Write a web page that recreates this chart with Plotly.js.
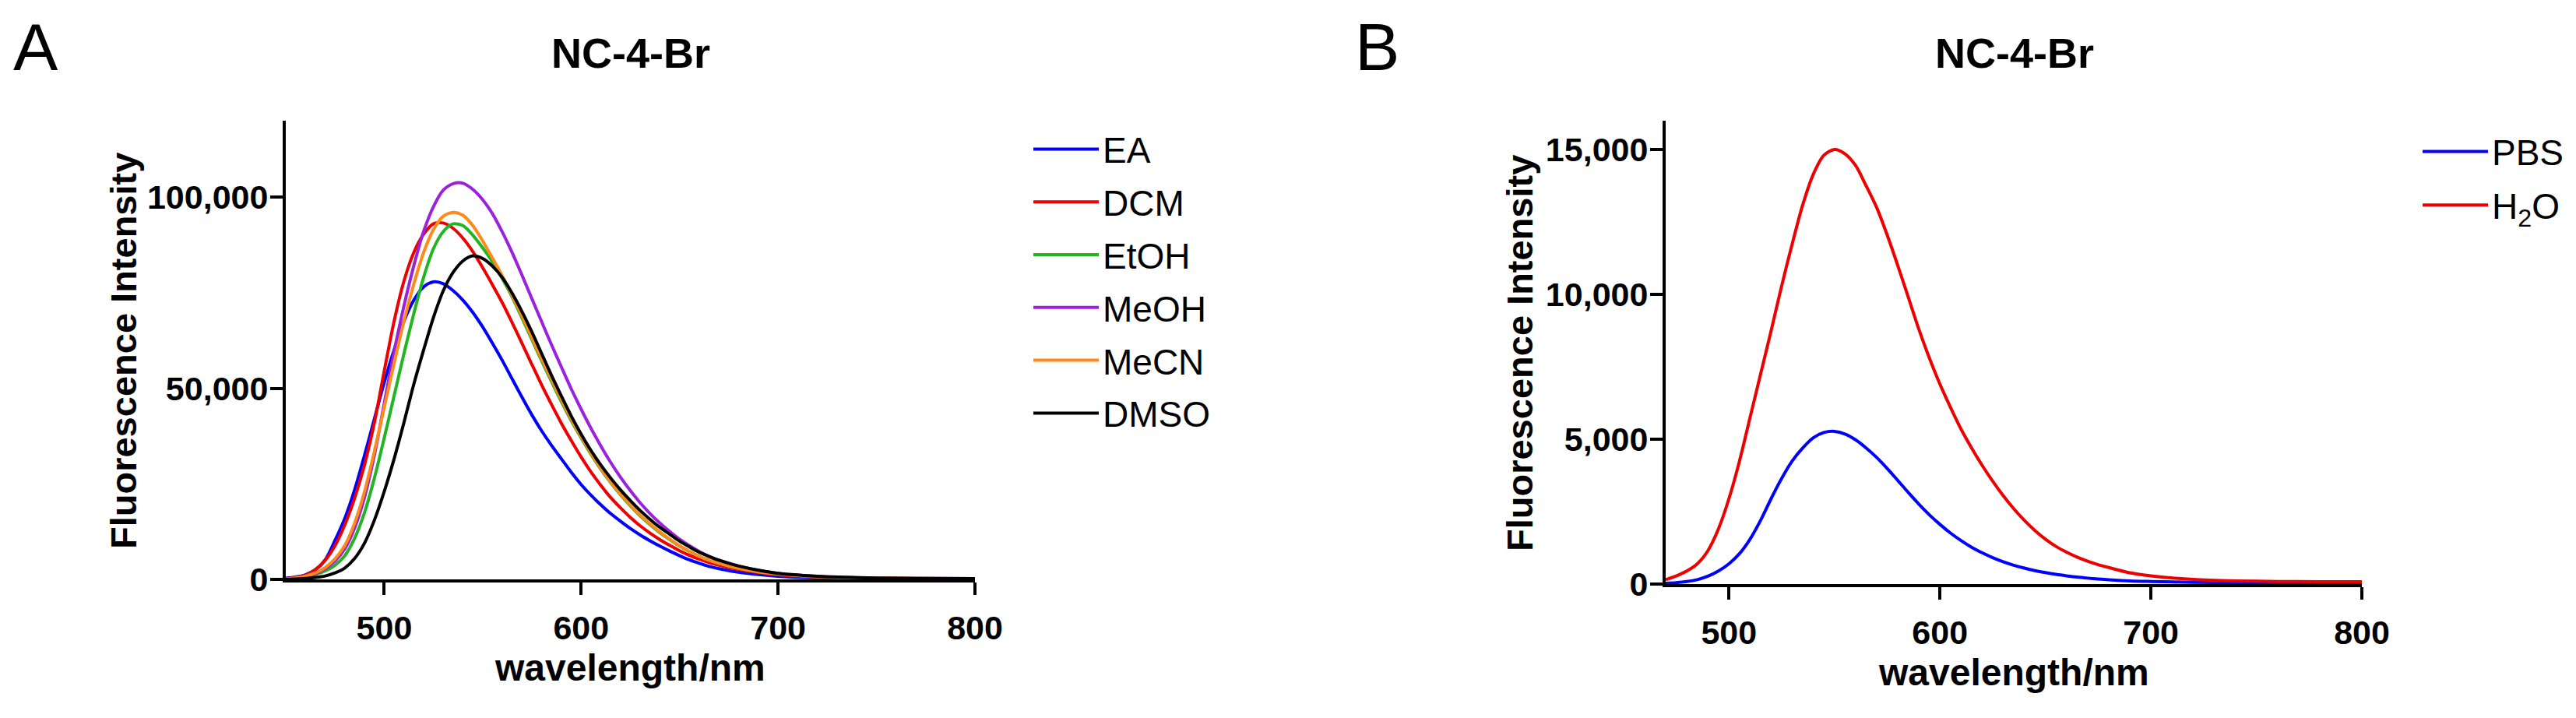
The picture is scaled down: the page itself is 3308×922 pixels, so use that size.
<!DOCTYPE html>
<html>
<head>
<meta charset="utf-8">
<script src="https://cdn.plot.ly/plotly-3.0.1.min.js"></script>
<style>
  html, body { margin: 0; padding: 0; background: #ffffff; }
  #chart { width: 3308px; height: 922px; }
</style>
</head>
<body>
<div id="chart"></div>
<script>
// ---------- Panel A data (wavelength in nm, intensity in counts) ----------
const wavelengthA = [450,455,460,465,470,475,480,485,490,495,500,505,510,515,520,525,530,535,540,545,550,555,560,565,570,575,580,585,590,595,600,605,610,615,620,625,630,635,640,645,650,655,660,665,670,675,680,690,700,720,740,760,780,800];

const seriesNamesA = ["EA", "DCM", "EtOH", "MeOH", "MeCN", "DMSO"];

const EA   = [300,600,1200,2500,5100,10200,16000,23500,32500,42000,51500,60000,67500,73000,76500,77800,77300,75500,73000,69800,66000,61700,57200,52400,47600,43000,38800,35000,31500,28000,24800,22000,19500,17200,15200,13300,11600,10100,8700,7400,6200,5100,4200,3400,2800,2300,1900,1250,800,400,220,150,110,100];
const DCM  = [200,500,1100,2500,5000,8800,14300,21300,30000,41000,54500,67500,78000,85500,90300,93000,93200,91800,89200,85700,81500,77000,72300,67100,61700,56200,50800,45700,40800,36300,32000,28100,24600,21400,18700,16200,14000,12100,10400,8900,7500,6300,5300,4400,3700,3100,2600,1800,1200,600,350,250,200,150];
const EtOH = [100,300,700,1300,2200,3700,6200,10800,17500,26500,37000,48000,59000,69500,79000,86500,91000,93000,92500,90000,86700,83000,78600,73800,68300,62700,57100,51700,46400,41500,37000,32700,28800,25300,22100,19200,16600,14300,12200,10400,8700,7300,6000,5000,4200,3500,2900,2000,1400,700,400,300,200,150];
const MeOH = [100,300,750,1500,2800,4800,8000,13500,21500,32500,46000,59500,71500,82000,91000,97500,101800,103500,103600,102000,99300,95600,90800,85400,79500,73400,67300,61300,55500,49800,44500,39500,34900,30600,26700,23200,20000,17200,14700,12500,10500,8800,7300,6000,5000,4200,3500,2400,1600,800,450,300,250,200];
const MeCN = [100,350,850,1700,3100,5400,8900,14800,23000,33500,45000,56500,67500,77200,85500,91500,95000,96000,95200,92500,88500,84000,79300,74200,68800,63200,57600,52200,46900,41900,37300,33000,29000,25500,22300,19400,16800,14500,12400,10500,8800,7300,6000,5000,4200,3500,2900,2000,1400,700,400,300,200,150];
const DMSO = [50,100,250,500,900,1700,3000,5500,9500,15500,23000,31500,41000,51000,60000,68500,75500,80300,83300,84600,83900,81900,78900,74800,70000,64700,59000,53300,47900,42700,38000,33700,29900,26500,23400,20600,18000,15700,13600,11800,10000,8500,7100,6000,5000,4200,3500,2400,1600,800,450,300,250,200];

const colorsA = ["#0000ff", "#ee0000", "#22b522", "#9b22dd", "#ff8a1c", "#000000"];

// ---------- Panel B data ----------
const wavelengthB = [470,475,480,485,490,495,500,505,510,515,520,525,530,535,540,545,550,555,560,565,570,575,580,585,590,595,600,605,610,615,620,625,630,635,640,645,650,655,660,665,670,675,680,690,700,720,740,760,780,800];

const seriesNamesB = ["PBS", "H<sub>2</sub>O"];

const PBS = [30,50,85,150,270,450,700,1050,1550,2200,2950,3650,4250,4700,5050,5230,5270,5180,4980,4700,4370,3990,3580,3160,2760,2390,2060,1760,1500,1270,1080,910,770,650,550,465,395,335,285,240,205,175,150,110,90,60,50,45,40,40];
const H2O = [150,280,450,700,1150,1900,2950,4250,5750,7250,8750,10300,11750,13100,14150,14800,15000,14850,14450,13750,13000,12050,11000,9900,8800,7800,6900,6100,5350,4700,4100,3550,3050,2600,2200,1850,1550,1300,1100,930,790,670,570,390,284,160,110,90,80,80];

const colorsB = ["#0000ff", "#ee0000"];

// ---------- Tick labels ----------
const yTicksA = [0, 50000, 100000];
const yTicksB = [0, 5000, 10000, 15000];
const xTicks = [500, 600, 700, 800];

// ---------- Build traces ----------
const seriesA = [EA, DCM, EtOH, MeOH, MeCN, DMSO];
const seriesB = [PBS, H2O];

const data = [];
seriesA.forEach((ys, i) => {
  data.push({
    type: "scatter", mode: "lines",
    x: wavelengthA, y: ys, name: seriesNamesA[i],
    xaxis: "x", yaxis: "y",
    legend: "legend", legendgroup: "a" + i,
    line: { color: colorsA[i], width: 4, shape: "spline", smoothing: 0.8 }
  });
});
seriesB.forEach((ys, i) => {
  data.push({
    type: "scatter", mode: "lines",
    x: wavelengthB, y: ys, name: seriesNamesB[i],
    xaxis: "x2", yaxis: "y2",
    legend: "legend2", legendgroup: "b" + i,
    line: { color: colorsB[i], width: 4, shape: "spline", smoothing: 0.8 }
  });
});

const W = 3308, H = 922;
const px = v => v / W;
const py = v => 1 - v / H;

const FONT = "Liberation Sans, Arial, Helvetica, sans-serif";
const tickFont = { family: FONT, size: 43, color: "#000", weight: "bold" };

function xAxis(domain, range, anchor) {
  return {
    domain: domain, range: range, anchor: anchor,
    tickmode: "array", tickvals: xTicks, ticktext: xTicks.map(String),
    ticks: "outside", ticklen: 16, tickwidth: 4, tickcolor: "#000",
    showline: true, linewidth: 4, linecolor: "#000",
    showgrid: false, zeroline: false,
    tickfont: tickFont, ticklabelstandoff: 5
  };
}
function yAxis(domain, range, anchor, tickvals) {
  return {
    domain: domain, range: range, anchor: anchor,
    tickmode: "array", tickvals: tickvals,
    ticktext: tickvals.map(v => v.toLocaleString("en-US")),
    ticks: "outside", ticklen: 16, tickwidth: 4, tickcolor: "#000",
    showline: true, linewidth: 4, linecolor: "#000",
    showgrid: false, zeroline: false,
    tickfont: tickFont, ticklabelstandoff: -6
  };
}

const legendFont = { family: FONT, size: 46, color: "#000" };
const axisTitleFont = { family: FONT, size: 48, color: "#000" };
const yTitleFont = { family: FONT, size: 47, color: "#000" };

const layout = {
  width: W, height: H,
  margin: { l: 0, r: 0, t: 0, b: 0, pad: 0 },
  paper_bgcolor: "#ffffff", plot_bgcolor: "#ffffff",
  showlegend: true,
  xaxis: xAxis([px(367), px(1252)], [450, 800], "y"),
  yaxis: yAxis([py(744), py(154.8)], [0, 120000], "x", yTicksA),
  xaxis2: xAxis([px(2139), px(3033)], [470, 800], "y2"),
  yaxis2: yAxis([py(750), py(154.8)], [0, 16000], "x2", yTicksB),
  legend: {
    x: px(1322), y: py(155), xanchor: "left", yanchor: "top",
    font: legendFont, itemwidth: 84, tracegroupgap: 5,
    bgcolor: "rgba(0,0,0,0)", borderwidth: 0, traceorder: "grouped"
  },
  legend2: {
    x: px(3106), y: py(158), xanchor: "left", yanchor: "top",
    font: legendFont, itemwidth: 84, tracegroupgap: 6,
    bgcolor: "rgba(0,0,0,0)", borderwidth: 0, traceorder: "grouped"
  },
  annotations: [
    { text: "A", xref: "paper", yref: "paper", x: px(15), y: py(60), xanchor: "left", yanchor: "middle",
      showarrow: false, font: { family: FONT, size: 86, color: "#000" } },
    { text: "B", xref: "paper", yref: "paper", x: px(1738), y: py(60), xanchor: "left", yanchor: "middle",
      showarrow: false, font: { family: FONT, size: 86, color: "#000" } },
    { text: "<b>NC-4-Br</b>", xref: "paper", yref: "paper", x: px(810), y: py(68), xanchor: "center", yanchor: "middle",
      showarrow: false, font: { family: FONT, size: 54, color: "#000" } },
    { text: "<b>NC-4-Br</b>", xref: "paper", yref: "paper", x: px(2587), y: py(68), xanchor: "center", yanchor: "middle",
      showarrow: false, font: { family: FONT, size: 54, color: "#000" } },
    { text: "<b>wavelength/nm</b>", xref: "paper", yref: "paper", x: px(809), y: py(857), xanchor: "center", yanchor: "middle",
      showarrow: false, font: axisTitleFont },
    { text: "<b>wavelength/nm</b>", xref: "paper", yref: "paper", x: px(2586), y: py(863), xanchor: "center", yanchor: "middle",
      showarrow: false, font: axisTitleFont },
    { text: "<b>Fluorescence Intensity</b>", xref: "paper", yref: "paper", x: px(158), y: py(451), xanchor: "center", yanchor: "middle",
      textangle: -90, showarrow: false, font: yTitleFont },
    { text: "<b>Fluorescence Intensity</b>", xref: "paper", yref: "paper", x: px(1951), y: py(454), xanchor: "center", yanchor: "middle",
      textangle: -90, showarrow: false, font: yTitleFont }
  ]
};

Plotly.newPlot("chart", data, layout, { staticPlot: true, displayModeBar: false });
</script>
</body>
</html>
